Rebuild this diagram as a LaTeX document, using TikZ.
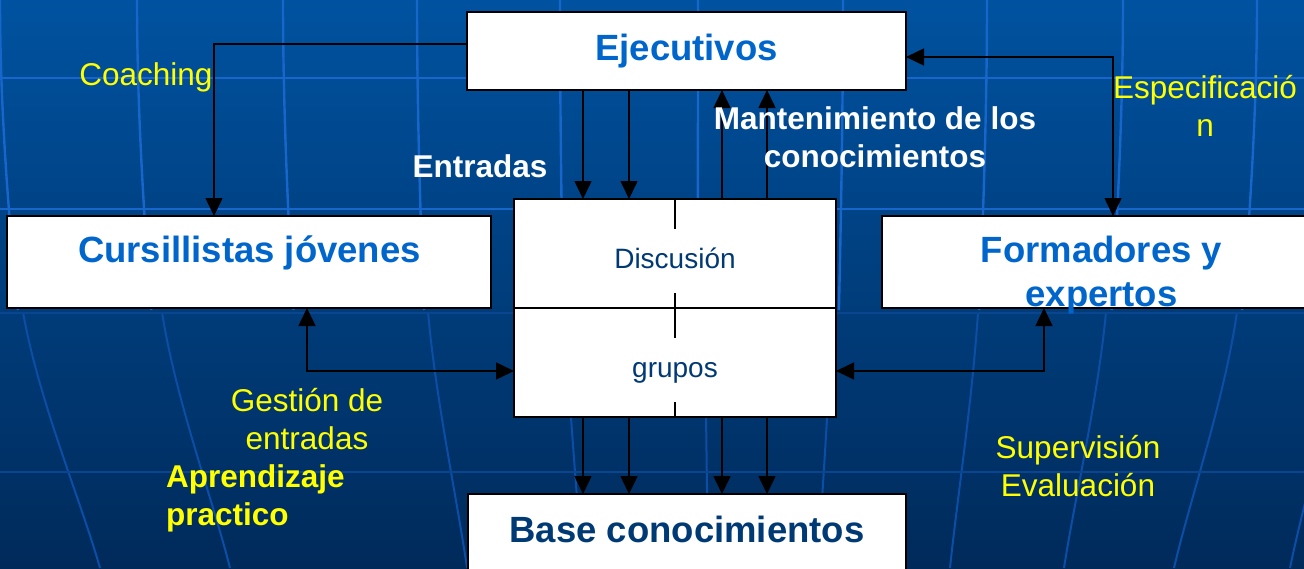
\documentclass[tikz,border=0pt]{standalone}
\usepackage{fontspec}
\setmainfont{Liberation Sans}
\usetikzlibrary{arrows.meta}
\definecolor{bgtop}{HTML}{0052A0}
\definecolor{bgmid}{HTML}{003D7C}
\definecolor{bgbot}{HTML}{002A5A}
\definecolor{gridhi}{HTML}{1666CC}
\definecolor{gridlo}{HTML}{0C4EA6}
\definecolor{gridfaint}{HTML}{0A4590}
\definecolor{titleblue}{HTML}{0066CC}
\definecolor{navy}{HTML}{003A75}
\definecolor{lblyellow}{HTML}{FFFF00}
\begin{document}
\begin{tikzpicture}[x=1pt,y=-1pt,
  box/.style={draw=black, line width=1.6pt, fill=white, inner sep=0pt, outer sep=0pt},
  conn/.style={draw=black, line width=1.6pt, -{Triangle[length=18pt,width=17pt]}},
  conntwo/.style={draw=black, line width=1.6pt, {Triangle[length=18pt,width=17pt]}-{Triangle[length=18pt,width=17pt]}},
  divline/.style={draw=black, line width=1.6pt},
  titletext/.style={font=\fontsize{36.5}{44}\selectfont\bfseries, text=titleblue, inner sep=0pt, align=center, anchor=base},
  navytext/.style={font=\fontsize{36.5}{44}\selectfont\bfseries, text=navy, inner sep=0pt, anchor=base},
  grouptext/.style={font=\fontsize{28}{34}\selectfont, text=navy, inner sep=0pt, anchor=base},
  yellowlbl/.style={font=\fontsize{31.5}{37.5}\selectfont, text=lblyellow, inner sep=0pt, align=center, anchor=base},
  yellowbold/.style={font=\fontsize{31.5}{37.5}\selectfont\bfseries, text=lblyellow, inner sep=0pt, align=left, anchor=base west},
  whitelbl/.style={font=\fontsize{31.5}{37.5}\selectfont\bfseries, text=white, inner sep=0pt, align=center, anchor=base},
  gridup/.style={draw=gridhi, line width=2.4pt},
  griddown/.style={draw=gridlo, line width=2pt}
]
\useasboundingbox (0,0) rectangle (1304,568);
\clip (0,0) rectangle (1304,568);
% background
\shade[top color=bgtop, middle color=bgmid, bottom color=bgbot] (0,0) rectangle (1304,568);
% upper meridians
\foreach \t in {0,137,283,417,560,698,843,987,1123,1257}{
  \pgfmathsetmacro{\dx}{0.026*(686-\t)}
  \draw[gridup] (\t,0) .. controls (\t,110) and ({\t+0.5*\dx},220) .. ({\t+\dx},310);
}
% lower meridians
\foreach \a/\b in {23/100,162/230,428/467,565/582,705/708,832/818,978/950,1106/1064,1237/1174,1345/1290}{
  \draw[griddown] (\a,312) .. controls ({\a+0.2*(\b-\a)},400) and ({\b-0.25*(\b-\a)},500) .. (\b,568);
}
% parallels
\draw[gridup] (0,78) -- (1304,78);
\draw[gridup] (0,209) -- (1304,209);
\draw[draw=gridfaint, line width=2pt] (0,313) -- (1304,313);
\draw[draw=gridfaint, line width=2pt] (0,472) -- (1304,472);

% boxes
\node[box, minimum width=439pt, minimum height=78pt] (ejec) at (686.5,51) {};
\node[box, minimum width=484pt, minimum height=92pt] (curs) at (249,262) {};
\node[box, minimum width=440pt, minimum height=92pt] (form) at (1102,262) {};
\node[box, minimum width=322pt, minimum height=109pt] (disc) at (675,253.5) {};
\node[box, minimum width=322pt, minimum height=109pt] (grup) at (675,362.5) {};
\node[box, minimum width=438pt, minimum height=100pt] (base) at (687,544) {};

% divider segments inside discussion block
\draw[divline] (disc.north) -- ++(0,30);
\draw[divline] (disc.south) -- ++(0,-15);
\draw[divline] (grup.north) -- ++(0,30);
\draw[divline] (grup.south) -- ++(0,-15);

% box texts
\node[titletext] (tejec) at (686.5,60) {Ejecutivos};
\node[titletext] (tcurs) at (249.5,262) {Cursillistas jóvenes};
\node[titletext] (tform) at (1101.5,306) {Formadores y\\expertos};
\node[navytext] (tbase) at (687,542) {Base conocimientos};
\node[grouptext] (tdisc) at (675,268) {Discusión};
\node[grouptext] (tgrup) at (675,377) {grupos};

% helper coordinates
\coordinate (xa) at (583,0);
\coordinate (xb) at (629,0);
\coordinate (xc) at (722,0);
\coordinate (xd) at (767,0);
\coordinate (coach) at (214,44);
\coordinate (spec) at (1113,57);
\coordinate (gest) at (307,371);
\coordinate (superv) at (1044,371);

% connectors
\draw[conn] (ejec.west |- coach) -- (coach) -- (curs.north -| coach);
\draw[conntwo] (ejec.east |- spec) -- (spec) -- (form.north -| spec);
\draw[conn] (ejec.south -| xa) -- (disc.north -| xa);
\draw[conn] (ejec.south -| xb) -- (disc.north -| xb);
\draw[conn] (disc.north -| xc) -- (ejec.south -| xc);
\draw[conn] (disc.north -| xd) -- (ejec.south -| xd);
\draw[conn] (grup.south -| xa) -- (base.north -| xa);
\draw[conn] (grup.south -| xb) -- (base.north -| xb);
\draw[conn] (grup.south -| xc) -- (base.north -| xc);
\draw[conn] (grup.south -| xd) -- (base.north -| xd);
\draw[conntwo] (curs.south -| gest) -- (gest) -- (grup.west |- gest);
\draw[conntwo] (form.south -| superv) -- (superv) -- (grup.east |- superv);

% labels
\node[yellowlbl] (lcoach) at (146,85) {Coaching};
\node[whitelbl] (lentr) at (480,177) {Entradas};
\node[whitelbl] (lmant) at (875,167) {Mantenimiento de los\\conocimientos};
\node[yellowlbl] (lspec) at (1205,136) {Especificació\\n};
\node[yellowlbl] (lgest) at (307,449) {Gestión de\\entradas};
\node[yellowbold] (lapr) at (166,525) {Aprendizaje\\practico};
\node[yellowlbl] (lsup) at (1078,496) {Supervisión\\Evaluación};
\end{tikzpicture}
\end{document}
